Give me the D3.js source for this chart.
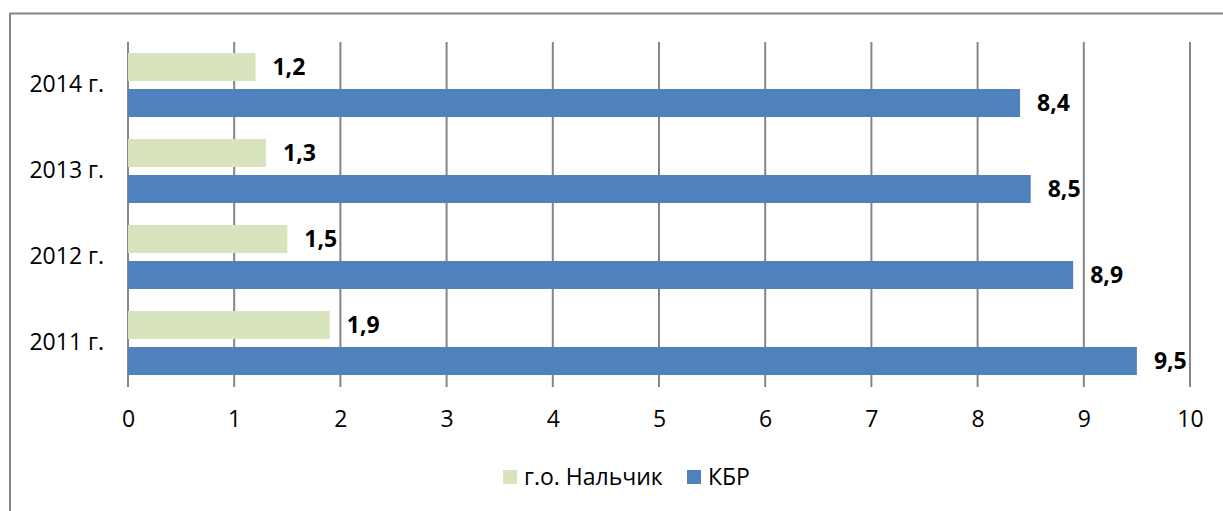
<!DOCTYPE html>
<html lang="ru">
<head>
<meta charset="utf-8">
<title></title>
<style>
  body { margin: 0; background: #fff; }
  text { font-family: "Open Sans", sans-serif; fill: #000; }
  .tick text { font-size: 23px; }
  .lbl { font-size: 23px; font-weight: bold; }
</style>
</head>
<body>
<script src="https://d3js.org/d3.v7.min.js"></script>
<script>
  // data
  const years = ["2014 г.", "2013 г.", "2012 г.", "2011 г."];
  const seriesNames = ["г.о. Нальчик", "КБР"];
  const nalchik = [1.2, 1.3, 1.5, 1.9];
  const kbr = [8.4, 8.5, 8.9, 9.5];
  const xTicks = [0, 1, 2, 3, 4, 5, 6, 7, 8, 9, 10];
  const colors = ["#d7e4bd", "#4f81bd"];

  const W = 1223, H = 511;
  const svg = d3.select("body").append("svg")
      .attr("width", W).attr("height", H);

  // outer frame (top and left visible)
  svg.append("path")
      .attr("d", "M10," + H + "V13.5H" + W)
      .attr("fill", "none").attr("stroke", "#868686").attr("stroke-width", 2);

  const x = d3.scaleLinear().domain([0, 10]).range([128, 1190]);
  const y = d3.scaleBand().domain(years).range([42, 386]).padding(0);
  const ySub = d3.scaleBand().domain(seriesNames)
      .range([0, y.bandwidth()]).paddingInner(0.222).paddingOuter(0.306);

  // gridlines
  svg.append("g").selectAll("line")
      .data(xTicks).join("line")
      .attr("x1", d => x(d)).attr("x2", d => x(d))
      .attr("y1", 42).attr("y2", 387)
      .attr("stroke", "#868686").attr("stroke-width", 2);

  // x axis labels
  const xAxis = d3.axisBottom(x).tickValues(xTicks).tickSize(0).tickPadding(25)
      .tickFormat(d3.format("d"));
  svg.append("g")
      .attr("transform", "translate(0,386)")
      .call(xAxis)
      .call(g => g.select(".domain").remove())
      .selectAll("text").attr("font-family", null).attr("font-size", null);

  // y axis labels
  const yAxis = d3.axisLeft(y).tickSize(0).tickPadding(24);
  svg.append("g")
      .attr("transform", "translate(128,0)")
      .call(yAxis)
      .call(g => g.select(".domain").remove())
      .selectAll("text").attr("font-family", null).attr("font-size", null);

  const rows = [];
  years.forEach((yr, i) => {
    rows.push({ year: yr, s: seriesNames[0], v: nalchik[i], c: colors[0] });
    rows.push({ year: yr, s: seriesNames[1], v: kbr[i], c: colors[1] });
  });

  svg.append("g").selectAll("rect")
      .data(rows).join("rect")
      .attr("x", x(0))
      .attr("y", d => y(d.year) + ySub(d.s))
      .attr("width", d => x(d.v) - x(0))
      .attr("height", ySub.bandwidth())
      .attr("fill", d => d.c);

  svg.append("g").selectAll("text")
      .data(rows).join("text")
      .attr("class", "lbl")
      .attr("x", d => x(d.v) + 17)
      .attr("y", d => y(d.year) + ySub(d.s) + ySub.bandwidth() / 2)
      .attr("dy", "0.36em")
      .text(d => String(d.v).replace(".", ","));

  // legend
  const legend = svg.append("g").attr("transform", "translate(503,470)");
  const legX = [0, 184];
  seriesNames.forEach((n, i) => {
    const g = legend.append("g").attr("transform", "translate(" + legX[i] + ",0)");
    g.append("rect").attr("width", 14).attr("height", 14).attr("fill", colors[i]);
    g.append("text").attr("x", 21).attr("y", 7).attr("dy", "0.36em")
        .style("font-size", "23px").text(n);
  });
</script>
</body>
</html>
